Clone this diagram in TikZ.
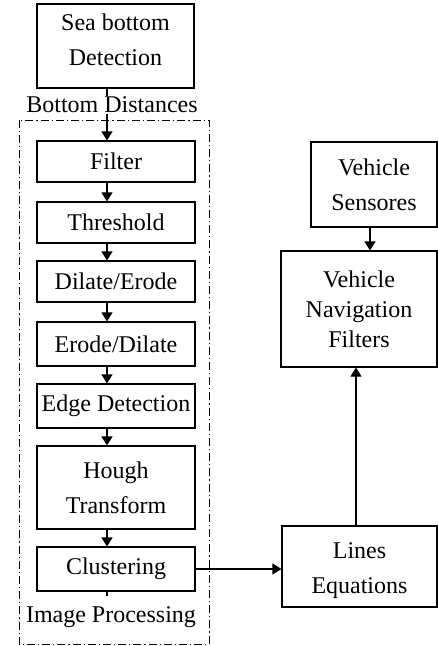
\documentclass[tikz,border=0pt]{standalone}
\usepackage{fontspec}
\setmainfont{Liberation Serif}
\usetikzlibrary{arrows.meta}

\tikzset{
  box/.style={draw=black, line width=1.1pt, fill=white, inner sep=0pt,
    align=center, font=\fontsize{24}{35}\selectfont},
  arr/.style={line width=1.1pt, -{Triangle[length=9pt,width=11pt]}},
  tag/.style={inner sep=1pt, fill=white, font=\fontsize{24}{28}\selectfont},
  frame/.style={line width=1pt, dash pattern=on 8pt off 3pt on 1.2pt off 3pt}
}

\begin{document}
\begin{tikzpicture}[x=1pt,y=-1pt]
\useasboundingbox (0,0) rectangle (438,646);

% column of the vertical connectors on the left and right
\coordinate (spine) at (107,0);
\coordinate (rspine) at (356,0);
\coordinate (sspine) at (370,0);

% image processing frame
\draw[frame] (19,120) rectangle (209,644);

% left chain
\node[box, minimum width=157pt, minimum height=84pt, text depth=12pt] (sea) at (115.5,46) {Sea bottom\\Detection};
\node[box, minimum width=158pt, minimum height=41pt] (filter) at (116,161.5) {Filter};
\node[box, minimum width=158pt, minimum height=41pt] (thresh) at (116,222.5) {Threshold};
\node[box, minimum width=158pt, minimum height=41pt] (dilate) at (116,281.5) {Dilate/Erode};
\node[box, minimum width=158pt, minimum height=44pt] (erode) at (116,344) {Erode/Dilate};
\node[box, minimum width=158pt, minimum height=44pt] (edge) at (116,406) {Edge Detection};
\node[box, minimum width=158pt, minimum height=83pt] (hough) at (116,487.5) {Hough\\Transform};
\node[box, minimum width=158pt, minimum height=44pt] (clust) at (116,569) {Clustering};

% right column
\node[box, minimum width=126pt, minimum height=85pt] (sens) at (374,184.5) {Vehicle\\Sensores};
\node[box, minimum width=156pt, minimum height=116pt, font=\fontsize{24}{30}\selectfont] (vnf) at (359,309) {Vehicle\\Navigation\\Filters};
\node[box, minimum width=155pt, minimum height=81pt] (lines) at (359.5,566.5) {};
\node[align=center, inner sep=0pt, font=\fontsize{24}{35}\selectfont] (linestxt) at ([yshift=-4pt]lines.center) {Lines\\Equations};

% connectors
\draw[arr] (sea.south -| spine) -- (filter.north -| spine);
\draw[arr] (filter.south -| spine) -- (thresh.north -| spine);
\draw[arr] (thresh.south -| spine) -- (dilate.north -| spine);
\draw[arr] (dilate.south -| spine) -- (erode.north -| spine);
\draw[arr] (erode.south -| spine) -- (edge.north -| spine);
\draw[arr] (edge.south -| spine) -- (hough.north -| spine);
\draw[arr] (hough.south -| spine) -- (clust.north -| spine);
\draw[line width=1.1pt] (clust.south -| spine) -- ++(0,4);
\draw[arr] (clust.east) -- (clust.east -| lines.west);
\draw[arr] (lines.north -| rspine) -- (vnf.south -| rspine);
\draw[arr] (sens.south -| sspine) -- (vnf.north -| sspine);

% labels
\node[tag] (dist) at (112,105) {Bottom Distances};
\node[tag] (proc) at (111,617) {Image Processing};
\end{tikzpicture}
\end{document}
